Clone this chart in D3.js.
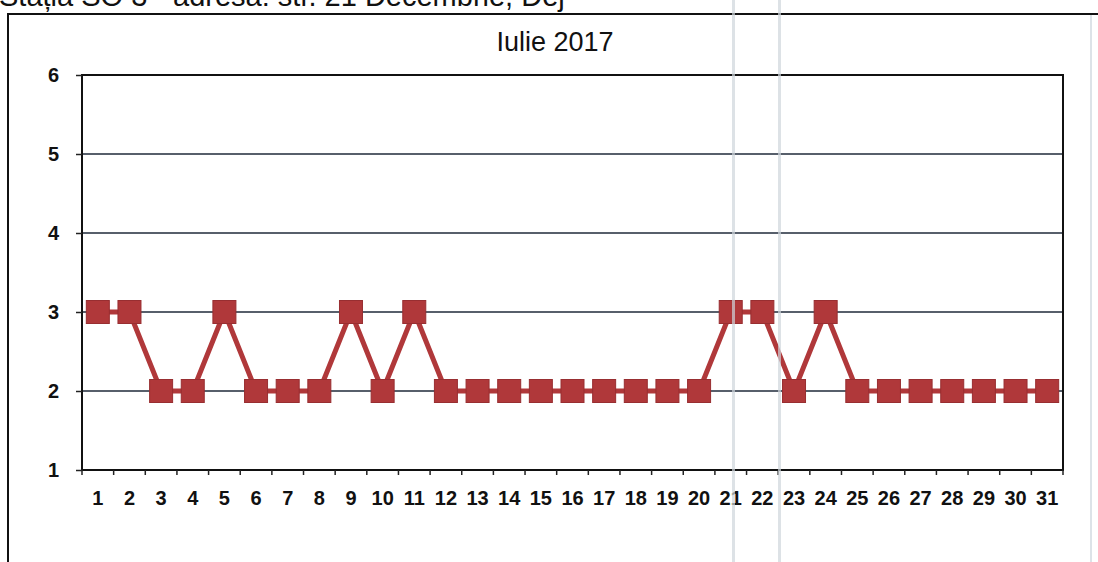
<!DOCTYPE html>
<html>
<head>
<meta charset="utf-8">
<script src="https://cdn.jsdelivr.net/npm/d3@7"></script>
<style>
  html, body { margin: 0; padding: 0; background: #fff; }
  svg { display: block; font-family: "Liberation Sans", Arial, sans-serif; }
  .axis text { font-size: 20px; font-weight: bold; fill: #111; }
</style>
</head>
<body>
<svg id="chart" width="1098" height="562"></svg>
<script>
// data
const days = d3.range(1, 32).map(String);
const values = [3, 3, 2, 2, 3, 2, 2, 2, 3, 2, 3, 2, 2, 2, 2, 2, 2, 2, 2, 2,
                3, 3, 2, 3, 2, 2, 2, 2, 2, 2, 2];
const yTicks = [1, 2, 3, 4, 5, 6];
const headerText = 'Stația SO 3 - adresa: str. 21 Decembrie, Dej';
const titleText = 'Iulie 2017';

const W = 1098, H = 562;
const margin = { top: 75, right: 35, bottom: 92, left: 82 };
const red = '#b0383a';

const svg = d3.select('#chart');

/** Page frame and cut-off header (scanned page edge) */
svg.append('text')
  .attr('x', -1).attr('y', 6)
  .style('font-size', '29px')
  .attr('fill', '#111')
  .text(headerText);

svg.append('line')
  .attr('x1', 8).attr('x2', W).attr('y1', 14).attr('y2', 14)
  .attr('stroke', '#111').attr('stroke-width', 2);
svg.append('line')
  .attr('x1', 8).attr('x2', 8).attr('y1', 13).attr('y2', H)
  .attr('stroke', '#111').attr('stroke-width', 2);
svg.append('line')
  .attr('x1', 1091).attr('x2', 1091).attr('y1', 15).attr('y2', H)
  .attr('stroke', '#dde3e8').attr('stroke-width', 2);

/** Scales */
const x = d3.scaleBand()
  .domain(days)
  .range([margin.left, W - margin.right]);

const y = d3.scaleLinear()
  .domain([1, 6])
  .range([H - margin.bottom, margin.top]);

/** Title */
svg.append('text')
  .attr('x', 555).attr('y', 51)
  .attr('text-anchor', 'middle')
  .style('font-size', '27px')
  .attr('fill', '#111')
  .text(titleText);

/** Gridlines */
svg.append('g')
  .selectAll('line')
  .data(yTicks.filter(d => d > 1 && d < 6))
  .join('line')
  .attr('x1', margin.left).attr('x2', W - margin.right)
  .attr('y1', d => y(d)).attr('y2', d => y(d))
  .attr('stroke', '#1f2a3a').attr('stroke-width', 1.3);

/** Plot border */
svg.append('rect')
  .attr('x', margin.left).attr('y', y(6))
  .attr('width', W - margin.right - margin.left)
  .attr('height', y(1) - y(6))
  .attr('fill', 'none')
  .attr('stroke', '#111').attr('stroke-width', 2);

/** Axes */
const xAxis = svg.append('g')
  .attr('class', 'axis')
  .attr('transform', `translate(0,${y(1)})`)
  .call(d3.axisBottom(x).tickSize(0).tickPadding(21));
xAxis.attr('font-size', null).attr('font-family', null);
xAxis.select('.domain').remove();

svg.append('g')
  .selectAll('line')
  .data(days.map(d => x(d)).concat([W - margin.right]))
  .join('line')
  .attr('x1', d => d).attr('x2', d => d)
  .attr('y1', y(1)).attr('y2', y(1) + 5)
  .attr('stroke', '#222').attr('stroke-width', 1.5);

const yAxis = svg.append('g')
  .attr('class', 'axis')
  .attr('transform', `translate(${margin.left},0)`)
  .call(d3.axisLeft(y).tickValues(yTicks).tickFormat(d3.format('d')).tickSize(6).tickPadding(17));
yAxis.attr('font-size', null).attr('font-family', null);
yAxis.select('.domain').remove();
yAxis.selectAll('line').attr('stroke', '#222').attr('stroke-width', 1.5);

/** Series line */
const cx = d => x(d) + x.bandwidth() / 2;
svg.append('path')
  .datum(values)
  .attr('fill', 'none')
  .attr('stroke', red)
  .attr('stroke-width', 5)
  .attr('d', d3.line().x((d, i) => cx(days[i])).y(d => y(d)));

/** Markers */
const ms = 23;
svg.append('g')
  .selectAll('rect')
  .data(values)
  .join('rect')
  .attr('x', (d, i) => cx(days[i]) - ms / 2)
  .attr('y', d => y(d) - ms / 2)
  .attr('width', ms).attr('height', ms)
  .attr('fill', red)
  .attr('stroke', '#982e31').attr('stroke-width', 1);

/** Scanner streaks */
svg.append('g')
  .selectAll('rect')
  .data([732, 778])
  .join('rect')
  .attr('x', d => d).attr('y', 0)
  .attr('width', 3).attr('height', H)
  .attr('fill', '#cfd6dc').attr('opacity', 0.7);
</script>
</body>
</html>
